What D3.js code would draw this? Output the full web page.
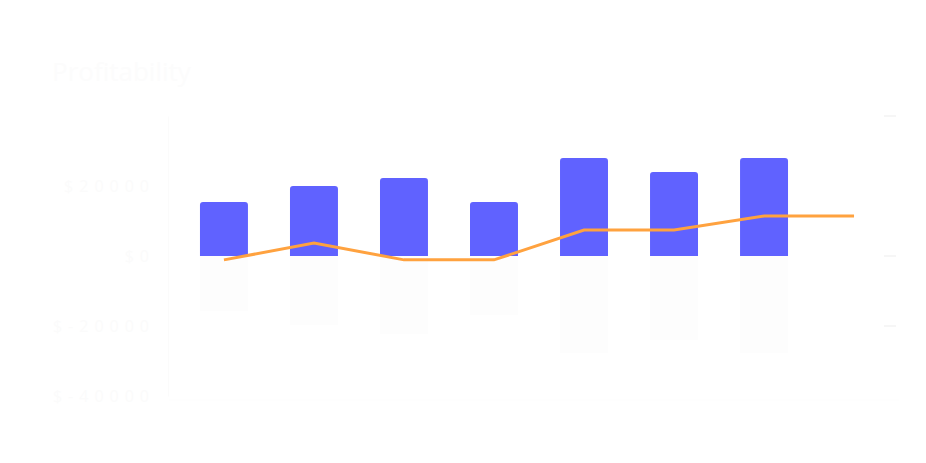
<!DOCTYPE html>
<html>
<head>
<meta charset="utf-8">
<script src="https://cdn.jsdelivr.net/npm/d3@7"></script>
<style>
  body { margin: 0; background: #ffffff; font-family: "Open Sans", sans-serif; }
</style>
</head>
<body>
<svg id="chart" width="926" height="463"></svg>
<script>
// data
var months = ["Jan", "Feb", "Mar", "Apr", "May", "Jun", "Jul", "Aug"];
var revenue = [15400, 20000, 22300, 15400, 28000, 24000, 28000, null];
var expenses = [-15700, -19700, -22300, -16900, -27700, -24000, -27700, null];
var profit = [-1100, 3700, -1100, -1100, 7400, 7400, 11400, 11400];
var leftTicks = [20000, 0, -20000, -40000];
var rightTicks = [40000, 0, -20000];

var svg = d3.select("#chart");
var faint = "#fbfbfb";

var x = d3.scaleBand().domain(months).range([179, 899]).paddingInner(0.467).paddingOuter(0.233);
var y = d3.scaleLinear().domain([-40000, 40000]).range([396, 116]);

svg.append("text")
  .attr("x", 52).attr("y", 81)
  .attr("font-size", 26)
  .attr("fill", "#fcfcfc")
  .text("Profitability");

// left axis
var yAxis = d3.axisLeft(y).tickValues(leftTicks).tickSize(0).tickPadding(13)
  .tickFormat(function(d) { return "$" + d; });
var ga = svg.append("g").attr("transform", "translate(168,0)").call(yAxis);
ga.select(".domain").attr("stroke", "#fbfbfb");
ga.selectAll("text").attr("fill", faint).attr("font-size", 16)
  .attr("letter-spacing", 6).attr("font-family", "Open Sans");

// right axis ticks
svg.append("g").selectAll("line").data(rightTicks).enter().append("line")
  .attr("x1", 884).attr("x2", 896)
  .attr("y1", function(d) { return y(d); }).attr("y2", function(d) { return y(d); })
  .attr("stroke", "#f6f6f6").attr("stroke-width", 2);

// baseline along bottom
svg.append("line").attr("x1", 169).attr("x2", 899).attr("y1", 400).attr("y2", 400)
  .attr("stroke", "#fdfdfd");

var bw = x.bandwidth();
var r = 3;
function topRounded(x0, y0, w, h) {
  return "M" + x0 + "," + (y0 + h) + "V" + (y0 + r) + "Q" + x0 + "," + y0 + " " + (x0 + r) + "," + y0 +
    "H" + (x0 + w - r) + "Q" + (x0 + w) + "," + y0 + " " + (x0 + w) + "," + (y0 + r) + "V" + (y0 + h) + "Z";
}

svg.append("g").selectAll("rect").data(months.filter(function(m, i) { return expenses[i] != null; }))
  .enter().append("rect")
  .attr("x", function(d) { return x(d); })
  .attr("y", y(0))
  .attr("width", bw)
  .attr("height", function(d, i) { return y(expenses[i]) - y(0); })
  .attr("fill", "#fdfdfd");

svg.append("g").selectAll("path").data(months.filter(function(m, i) { return revenue[i] != null; }))
  .enter().append("path")
  .attr("d", function(d, i) { return topRounded(x(d), y(revenue[i]), bw, y(0) - y(revenue[i])); })
  .attr("fill", "#6062ff");

var line = d3.line()
  .x(function(d, i) { return x(months[i]) + bw / 2; })
  .y(function(d) { return y(d); });

svg.append("path").datum(profit)
  .attr("d", line)
  .attr("fill", "none")
  .attr("stroke", "#ffa23f")
  .attr("stroke-width", 3);
</script>
</body>
</html>
